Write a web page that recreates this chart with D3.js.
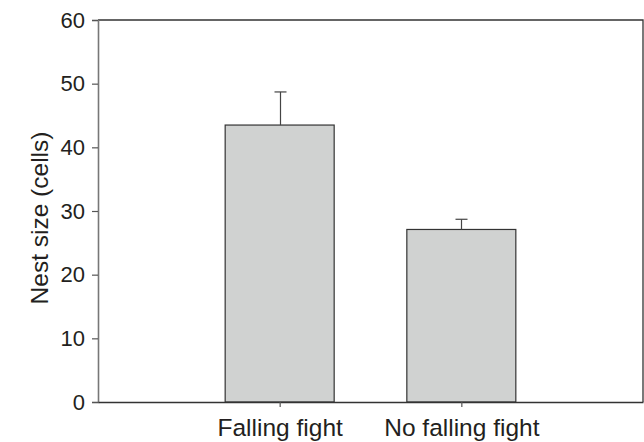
<!DOCTYPE html>
<html>
<head>
<meta charset="utf-8">
<script src="https://cdn.jsdelivr.net/npm/d3@7"></script>
<style>
  body { margin: 0; background: #fff; }
  text { font-family: "Liberation Sans", Arial, Helvetica, sans-serif; fill: #231f20; }
</style>
</head>
<body>
<svg id="chart" width="644" height="442"></svg>
<script>
const categories = ["Falling fight", "No falling fight"];
const means = [43.5, 27.1];
const errors = [5.2, 1.6];
const yTicks = [0, 10, 20, 30, 40, 50, 60];

const svg = d3.select("#chart");
const margin = { left: 98, right: 1, top: 20, bottom: 40 };
const W = 644, H = 442;
const x0 = margin.left, x1 = W - margin.right;
const y0 = H - margin.bottom, y1 = margin.top;

const x = d3.scalePoint().domain(categories).range([x0, x1]).padding(1);
const y = d3.scaleLinear().domain([0, 60]).range([y0, y1]);
const barW = x.step() * 0.6;

// frame (top & right)
svg.append("path")
  .attr("d", `M${x0},${y1}H${x1}V${y0}`)
  .attr("fill", "none").attr("stroke", "#333").attr("stroke-width", 1.3);

// bars
svg.selectAll("rect.bar").data(categories).enter().append("rect")
  .attr("class", "bar")
  .attr("x", d => x(d) - barW / 2)
  .attr("width", barW)
  .attr("y", (d, i) => y(means[i]))
  .attr("height", (d, i) => y(0) - y(means[i]))
  .attr("fill", "#d0d2d1").attr("stroke", "#333").attr("stroke-width", 1.2);

// error bars
const capW = 12;
categories.forEach((c, i) => {
  const cx = Math.round(x(c)) + 0.5;
  svg.append("line").attr("x1", cx).attr("x2", cx)
    .attr("y1", y(means[i])).attr("y2", y(means[i] + errors[i]))
    .attr("stroke", "#444").attr("stroke-width", 1.2);
  svg.append("line").attr("x1", cx - capW / 2).attr("x2", cx + capW / 2)
    .attr("y1", y(means[i] + errors[i])).attr("y2", y(means[i] + errors[i]))
    .attr("stroke", "#444").attr("stroke-width", 1.2);
});

// y axis
const yAxis = svg.append("g").attr("transform", `translate(${x0},0)`)
  .call(d3.axisLeft(y).tickValues(yTicks).tickSize(6).tickPadding(7).tickFormat(d3.format("d")));
yAxis.select(".domain").attr("stroke", "#777").attr("stroke-width", 1.6);
yAxis.selectAll(".tick line").attr("stroke", "#555").attr("stroke-width", 1.2);
yAxis.selectAll(".tick text").attr("font-size", 22).attr("fill", "#231f20")
  .attr("font-family", '"Liberation Sans", Arial, sans-serif');

// x axis
const xAxis = svg.append("g").attr("transform", `translate(0,${y0})`)
  .call(d3.axisBottom(x).tickSize(5).tickPadding(12).tickSizeOuter(0));
xAxis.select(".domain").attr("stroke", "#333").attr("stroke-width", 1.3);
xAxis.selectAll(".tick line").attr("stroke", "#555").attr("stroke-width", 1.2);
xAxis.selectAll(".tick text").attr("font-size", 24.5).attr("fill", "#231f20")
  .attr("font-family", '"Liberation Sans", Arial, sans-serif');

// y label
svg.append("text")
  .attr("transform", `translate(48,${(y0 + y1) / 2 + 7}) rotate(-90)`)
  .attr("text-anchor", "middle")
  .attr("font-size", 24.5)
  .text("Nest size (cells)");
</script>
</body>
</html>
